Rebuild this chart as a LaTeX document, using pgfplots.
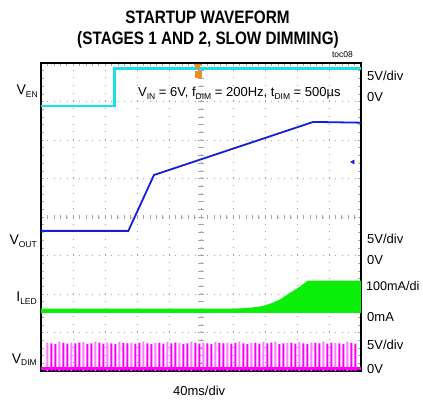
\documentclass[border=0pt]{standalone}
\usepackage{pgfplots}
\pgfplotsset{compat=1.18}
\usepackage{fontspec}
\setmainfont{Liberation Sans}
\newfontfamily\titlefont{Liberation Sans}[FakeStretch=0.85]

\definecolor{scopecyan}{RGB}{20,225,235}
\definecolor{scopeblue}{RGB}{20,30,220}
\definecolor{scopegreen}{RGB}{10,238,10}
\definecolor{scopemag}{RGB}{255,0,255}
\definecolor{scopepink}{RGB}{255,120,255}
\definecolor{scopeorange}{RGB}{240,140,30}

\newcommand\sub[1]{\raisebox{-2.8bp}{\fontsize{8.5bp}{8.5bp}\selectfont #1}}
\newcommand\lbl{\fontsize{13bp}{13bp}\selectfont}
\newcommand\chlbl{\fontsize{14bp}{14bp}\selectfont}

\begin{document}
\begin{tikzpicture}
\path[use as bounding box] (0,0) rectangle (423bp,400bp);

\begin{axis}[
  at={(41bp,29bp)},
  scale only axis,
  width=320bp, height=308bp,
  xmin=0, xmax=10, ymin=0, ymax=8,
  xtick={0,...,10}, ytick={0,...,8},
  xticklabels={}, yticklabels={},
  minor x tick num=4, minor y tick num=4,
  tick align=inside, tick pos=both,
  major tick length=3bp, minor tick length=3bp,
  tick style={gray!70, line width=0.6bp},
  grid=major,
  x grid style={gray!75, line width=0.8bp, dash pattern=on 1bp off 6.7bp},
  y grid style={gray!75, line width=0.8bp, dash pattern=on 1bp off 5.4bp},
  axis line style={black, line width=1.7bp},
  clip=false,
]
% centre cross ticks
\pgfplotsinvokeforeach{1,...,49}{\draw[gray!70, line width=0.6bp] (axis cs:{#1/5},3.94) -- (axis cs:{#1/5},4.06);}
\pgfplotsinvokeforeach{1,...,39}{\draw[gray!70, line width=0.6bp] (axis cs:4.92,{#1/5}) -- (axis cs:5.08,{#1/5});}

% V_EN
\addplot[scopecyan, line width=2.6bp] coordinates {(0,6.88) (2.29,6.88) (2.29,7.86) (10,7.86)};

% V_OUT
\addplot[scopeblue, line width=1.8bp] coordinates {(0,3.64) (2.73,3.64) (3.53,5.09) (8.51,6.47) (10,6.45)};

% I_LED envelope
\addplot[draw=none, fill=scopegreen] coordinates {
(0,1.62) (6.0,1.62) (6.3,1.63) (6.6,1.65) (6.94,1.69) (7.2,1.76) (7.47,1.86) (7.78,2.03)
(8.09,2.19) (8.34,2.35) (10,2.35) (10,1.51) (0,1.51)};

% V_DIM pulses
\addplot[ybar, bar width=2.1bp, bar shift=0pt, fill=scopepink, draw=none] coordinates {
(0.2,0.74) (0.575,0.76) (0.95,0.73) (1.325,0.75) (1.7,0.76) (2.075,0.74)
(2.45,0.75) (2.825,0.73) (3.2,0.76) (3.575,0.74) (3.95,0.75) (4.325,0.73)
(4.7,0.76) (5.075,0.74) (5.45,0.75) (5.825,0.73) (6.2,0.76) (6.575,0.74)
(6.95,0.75) (7.325,0.76) (7.7,0.73) (8.075,0.75) (8.45,0.74) (8.825,0.76)
(9.2,0.73) (9.575,0.75)};
\addplot[ybar, bar width=2.1bp, bar shift=0pt, fill=scopemag, draw=none] coordinates {
(0.325,0.72) (0.45,0.70) (0.7,0.73) (0.825,0.71) (1.075,0.72) (1.2,0.74)
(1.45,0.70) (1.575,0.72) (1.825,0.73) (1.95,0.71) (2.2,0.72) (2.325,0.70)
(2.575,0.73) (2.7,0.72) (2.95,0.71) (3.075,0.73) (3.325,0.72) (3.45,0.70)
(3.7,0.73) (3.825,0.71) (4.075,0.72) (4.2,0.74) (4.45,0.70) (4.575,0.72)
(4.825,0.73) (4.95,0.71) (5.2,0.72) (5.325,0.70) (5.575,0.73) (5.7,0.72)
(5.95,0.71) (6.075,0.73) (6.325,0.72) (6.45,0.70) (6.7,0.73) (6.825,0.71)
(7.075,0.72) (7.2,0.74) (7.45,0.70) (7.575,0.72) (7.825,0.73) (7.95,0.71)
(8.2,0.72) (8.325,0.70) (8.575,0.73) (8.7,0.72) (8.95,0.71) (9.075,0.73)
(9.325,0.72) (9.45,0.70) (9.7,0.73) (9.825,0.71)};
\addplot[scopemag, line width=2.8bp] coordinates {(0,0.06) (10,0.06)};

% markers
\addplot[only marks, mark=triangle*, mark size=2.4bp, mark options={rotate=90, scopeblue}] coordinates {(9.75,5.43)};
\addplot[only marks, mark=square*, mark size=3bp, mark options={scopeorange}] coordinates {(4.9,7.72)};
\addplot[only marks, mark=triangle*, mark size=4bp, mark options={rotate=180, scopeorange}] coordinates {(4.9,7.92)};
\end{axis}

% titles
\node[anchor=base, font=\titlefont\bfseries\fontsize{18bp}{18bp}\selectfont] at (207.5bp,376bp) {STARTUP WAVEFORM};
\node[anchor=base, font=\titlefont\bfseries\fontsize{18bp}{18bp}\selectfont] at (208bp,355bp) {(STAGES 1 AND 2, SLOW DIMMING)};
\node[anchor=base east, font=\fontsize{8.5bp}{8.5bp}\selectfont, inner sep=0pt] at (353bp,342bp) {toc08};

% left channel labels
\node[anchor=base east, inner sep=0pt, font=\chlbl] at (38bp,305bp) {V\sub{EN}};
\node[anchor=base east, inner sep=0pt, font=\chlbl] at (37bp,155bp) {V\sub{OUT}};
\node[anchor=base east, inner sep=0pt, font=\chlbl] at (37bp,98bp) {I\sub{LED}};
\node[anchor=base east, inner sep=0pt, font=\chlbl] at (37bp,37bp) {V\sub{DIM}};

% right scale labels
\node[anchor=base west, inner sep=0pt, font=\lbl] at (367bp,319bp) {5V/div};
\node[anchor=base west, inner sep=0pt, font=\lbl] at (367bp,298bp) {0V};
\node[anchor=base west, inner sep=0pt, font=\lbl] at (367bp,156bp) {5V/div};
\node[anchor=base west, inner sep=0pt, font=\lbl] at (367bp,135bp) {0V};
\node[anchor=base west, inner sep=0pt, font=\fontsize{12.6bp}{12.6bp}\selectfont] at (366bp,109bp) {100mA/di};
\node[anchor=base west, inner sep=0pt, font=\lbl] at (367bp,78bp) {0mA};
\node[anchor=base west, inner sep=0pt, font=\lbl] at (367bp,50bp) {5V/div};
\node[anchor=base west, inner sep=0pt, font=\lbl] at (367bp,27bp) {0V};

% conditions and time base
\node[anchor=base west, inner sep=0pt, font=\lbl] at (138bp,303bp) {V\sub{IN} = 6V, f\sub{DIM} = 200Hz, t\sub{DIM} = 500µs};
\node[anchor=base west, inner sep=0pt, font=\lbl] at (173bp,5bp) {40ms/div};
\end{tikzpicture}
\end{document}
